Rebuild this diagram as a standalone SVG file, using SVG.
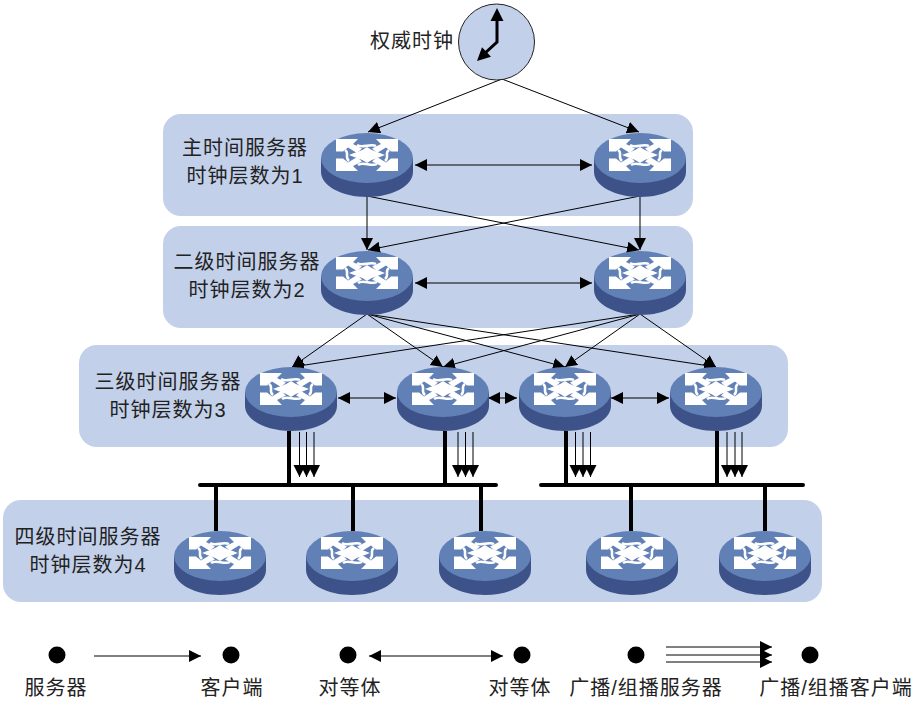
<svg xmlns="http://www.w3.org/2000/svg" width="918" height="706" viewBox="0 0 918 706">
<style>
text{font-family:"Liberation Sans","Noto Sans CJK SC",sans-serif;font-size:20px;letter-spacing:1px;fill:#222;text-anchor:middle}
.band{fill:#c2d0ea}
.c{stroke:#000;stroke-width:1;fill:none}
.a{marker-end:url(#ah)}
.b{marker-start:url(#as);marker-end:url(#ah)}
.bus{stroke:#000;stroke-width:4;fill:none}
.cap{stroke-linecap:round}
</style>
<defs>
<marker id="ah" markerUnits="userSpaceOnUse" markerWidth="13" markerHeight="14" refX="12" refY="6" orient="auto"><path d="M0 0L12 6L0 12Z" fill="#000"/></marker>
<marker id="as" markerUnits="userSpaceOnUse" markerWidth="13" markerHeight="14" refX="0" refY="6" orient="auto"><path d="M12 0L0 6L12 12Z" fill="#000"/></marker>
<path id="corner" d="M-31-19H-9L-14-14-5-9.500-10-5-19-10.500-24-6.500H-31Z" fill="#fff"/>
<g id="router">
<path d="M-46 0V14C-46 28-25 39 0 39S46 28 46 14V0Z" fill="#3d5288"/>
<ellipse cx="0" cy="0" rx="46" ry="25" fill="#6180b6"/>
<use href="#corner"/>
<use href="#corner" transform="scale(-1 1)"/>
<use href="#corner" transform="translate(0 -6) scale(1 -1)"/>
<use href="#corner" transform="translate(0 -6) scale(-1 -1)"/>
<path d="M0-11C5-7 11-6 18-3C11 0 5 1 0 5C-5 1-11 0-18-3C-11-6-5-7 0-11Z" fill="#fff"/>
<path d="M-22-8C-17-5-23-1-18 3M22-8C17-5 23-1 18 3M-10-13C-5-9 3-15 9-12M-9 7C-4 3 4 9 10 6" fill="none" stroke="#fff" stroke-width="2.500"/>
</g>
</defs>
<g id="bands">
<rect class="band" x="163" y="114" width="530" height="102" rx="18"/>
<rect class="band" x="163" y="226" width="530" height="102" rx="18"/>
<rect class="band" x="79" y="345" width="709" height="102" rx="18"/>
<rect class="band" x="3" y="500" width="819" height="102" rx="18"/>
</g>
<g id="connectors">
<path class="c a" d="M502 79L368 132"/>
<path class="c a" d="M502 79L639 132"/>
<path class="c b" d="M415 165H592"/>
<path class="c a" d="M367 196V250"/>
<path class="c a" d="M367 196L639 250"/>
<path class="c a" d="M640 196V250"/>
<path class="c a" d="M640 196L368 250"/>
<path class="c b" d="M415 283H592"/>
<path class="c a" d="M367 314L292 367"/>
<path class="c a" d="M367 314L443 367"/>
<path class="c a" d="M367 314L565 367"/>
<path class="c a" d="M367 314L716 367"/>
<path class="c a" d="M640 314L292 367"/>
<path class="c a" d="M640 314L443 367"/>
<path class="c a" d="M640 314L565 367"/>
<path class="c a" d="M640 314L716 367"/>
<path class="c b" d="M338 398H396"/>
<path class="c b" d="M488 398H517"/>
<path class="c b" d="M611 398H669"/>
<path class="bus cap" d="M200 485H496M541 485H803"/>
<path class="bus" d="M289 431V485M445 431V485M566 431V485M717 431V485M216 485V531M353 485V531M481 485V531M631 485V531M765 485V531"/>
<path class="c a" d="M299.500 432V477"/><path class="c a" d="M306.500 432V477"/><path class="c a" d="M314 432V477"/>
<path class="c a" d="M458 432V477"/><path class="c a" d="M465.500 432V477"/><path class="c a" d="M473 432V477"/>
<path class="c a" d="M575.500 432V477"/><path class="c a" d="M583 432V477"/><path class="c a" d="M590.500 432V477"/>
<path class="c a" d="M727 432V477"/><path class="c a" d="M735 432V477"/><path class="c a" d="M742 432V477"/>
<path class="c a" d="M94 656H201"/>
<path class="c b" d="M369 656H503"/>
<path class="c a" d="M666 647H772"/><path class="c a" d="M666 655H772"/><path class="c a" d="M666 662H772"/>
</g>
<g id="clock">
<circle cx="496.500" cy="42" r="38" fill="#c2d0ea" stroke="#222" stroke-width="1"/>
<path d="M497 18V42L484 54" fill="none" stroke="#000" stroke-width="3"/>
<path d="M497 8L503.500 21H490.500Z M477 61L491 56.700 482 47.300Z" fill="#000"/>
<text x="412" y="48">权威时钟</text>
</g>
<g id="r1-1"><use href="#router" x="367" y="158"/></g>
<g id="r1-2"><use href="#router" x="640" y="158"/></g>
<g id="r2-1"><use href="#router" x="367" y="276"/></g>
<g id="r2-2"><use href="#router" x="640" y="276"/></g>
<g id="r3-1"><use href="#router" x="291" y="392"/></g>
<g id="r3-2"><use href="#router" x="443" y="392"/></g>
<g id="r3-3"><use href="#router" x="565" y="392"/></g>
<g id="r3-4"><use href="#router" x="716" y="392"/></g>
<g id="r4-1"><use href="#router" x="220" y="556"/></g>
<g id="r4-2"><use href="#router" x="352" y="556"/></g>
<g id="r4-3"><use href="#router" x="485" y="556"/></g>
<g id="r4-4"><use href="#router" x="632" y="556"/></g>
<g id="r4-5"><use href="#router" x="765" y="556"/></g>
<g id="labels">
<text x="245" y="155">主时间服务器</text><text x="245" y="183">时钟层数为1</text>
<text x="247" y="269">二级时间服务器</text><text x="247" y="297">时钟层数为2</text>
<text x="168" y="389">三级时间服务器</text><text x="168" y="417">时钟层数为3</text>
<text x="88" y="544">四级时间服务器</text><text x="88" y="572">时钟层数为4</text>
</g>
<g id="legend">
<circle cx="57" cy="655" r="8.500"/><circle cx="231" cy="655" r="8.500"/><circle cx="348" cy="655" r="8.500"/><circle cx="522" cy="655" r="8.500"/><circle cx="636" cy="655" r="8.500"/><circle cx="810" cy="655" r="8.500"/>
<text x="56" y="695">服务器</text><text x="232" y="695">客户端</text><text x="350" y="695">对等体</text><text x="520" y="695">对等体</text><text x="646" y="695">广播/组播服务器</text><text x="836" y="695">广播/组播客户端</text>
</g>
</svg>
